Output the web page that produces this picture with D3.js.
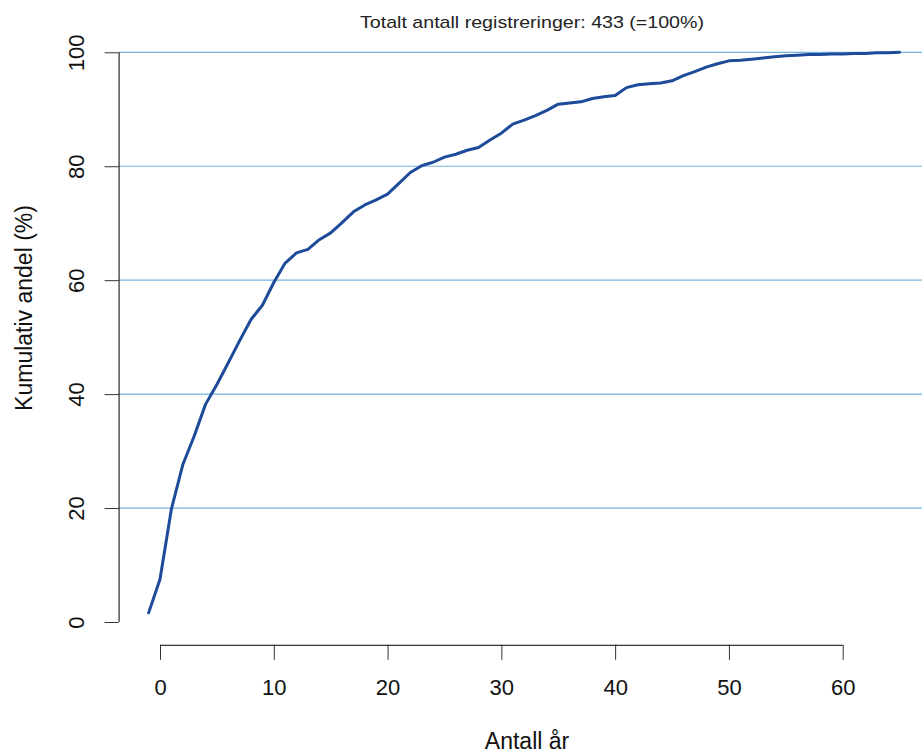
<!DOCTYPE html>
<html>
<head>
<meta charset="utf-8">
<script src="https://cdn.jsdelivr.net/npm/d3@7/dist/d3.min.js"></script>
<style>
  html, body { margin: 0; padding: 0; background: #fff; }
  svg { display: block; font-family: "Liberation Sans", Arial, sans-serif; }
</style>
</head>
<body>
<svg id="chart" width="922" height="755"></svg>
<script>
const years = [-1,0,1,2,3,4,5,6,7,8,9,10,11,12,13,14,15,16,17,18,19,20,21,22,23,24,25,26,27,28,29,30,31,32,33,34,35,36,37,38,39,40,41,42,43,44,45,46,47,48,49,50,51,52,53,54,55,56,57,58,59,60,61,62,63,64,65];
const cumulative = [1.6,7.5,19.8,27.6,32.6,38.2,41.7,45.5,49.4,53.1,55.6,59.6,63.0,64.8,65.4,67.1,68.3,70.1,72.0,73.2,74.1,75.1,77.0,78.9,80.1,80.7,81.6,82.1,82.8,83.3,84.6,85.8,87.4,88.1,88.9,89.8,90.9,91.1,91.3,91.9,92.2,92.4,93.8,94.3,94.5,94.6,95.0,95.9,96.6,97.4,98.0,98.5,98.6,98.8,99.0,99.2,99.4,99.5,99.6,99.6,99.7,99.7,99.8,99.8,99.9,99.9,100.0];
const xTicks = [0,10,20,30,40,50,60];
const yTicks = [0,20,40,60,80,100];
const gridValues = [20,40,60,80,100];
const title = "Totalt antall registreringer: 433 (=100%)";
const xLabel = "Antall år";
const yLabel = "Kumulativ andel (%)";

const svg = d3.select("#chart");
const W = 922, H = 755;

const x = d3.scaleLinear().domain([0, 60]).range([160, 842.7]);
const y = d3.scaleLinear().domain([0, 100]).range([622, 52.3]);
const plotLeft = x(-3.64);
const plotBottom = y(-4);

svg.append("g").selectAll("line").data(gridValues).join("line")
  .attr("x1", plotLeft).attr("x2", W)
  .attr("y1", d => y(d)).attr("y2", d => y(d))
  .attr("stroke", "#74b3df").attr("stroke-width", 1.2);

const line = d3.line().x((d, i) => x(years[i])).y(d => y(d));
svg.append("path").datum(cumulative)
  .attr("d", line)
  .attr("fill", "none")
  .attr("stroke", "#1d4b99")
  .attr("stroke-width", 3)
  .attr("stroke-linejoin", "round")
  .attr("stroke-linecap", "round");

const FONT = "Liberation Sans, Arial, sans-serif";

const xAxis = d3.axisBottom(x).tickValues(xTicks).tickSize(15).tickPadding(20).tickFormat(d3.format("d"));
const gx = svg.append("g").attr("transform", `translate(0,${plotBottom})`).call(xAxis);
gx.select(".domain").remove();
gx.append("line").attr("x1", x(0)).attr("x2", x(60)).attr("y1", 0.5).attr("y2", 0.5).attr("stroke", "#000");
gx.selectAll(".tick line").attr("stroke", "#333");
gx.selectAll("text").attr("font-size", 22).attr("fill", "#111").attr("font-family", FONT);

const yAxis = d3.axisLeft(y).tickValues(yTicks).tickSize(14).tickFormat(d3.format("d"));
const gy = svg.append("g").attr("transform", `translate(${plotLeft},0)`).call(yAxis);
gy.select(".domain").remove();
gy.append("line").attr("x1", 0.5).attr("x2", 0.5).attr("y1", y(0)).attr("y2", y(100)).attr("stroke", "#000");
gy.selectAll(".tick line").attr("stroke", "#333");
gy.selectAll(".tick text")
  .attr("x", 0)
  .attr("text-anchor", "middle")
  .attr("transform", "translate(-42,0) rotate(-90)")
  .attr("dy", "0.35em")
  .attr("font-size", 22).attr("fill", "#111").attr("font-family", FONT);

svg.append("text").attr("x", 532).attr("y", 28)
  .attr("text-anchor", "middle").attr("font-size", 17).attr("fill", "#222")
  .attr("textLength", 344).attr("lengthAdjust", "spacingAndGlyphs")
  .text(title);

svg.append("text").attr("x", 527).attr("y", 749)
  .attr("text-anchor", "middle").attr("font-size", 23).attr("fill", "#111")
  .text(xLabel);

svg.append("text")
  .attr("transform", `translate(32,308) rotate(-90)`)
  .attr("text-anchor", "middle").attr("font-size", 23).attr("fill", "#111")
  .text(yLabel);
</script>
</body>
</html>
